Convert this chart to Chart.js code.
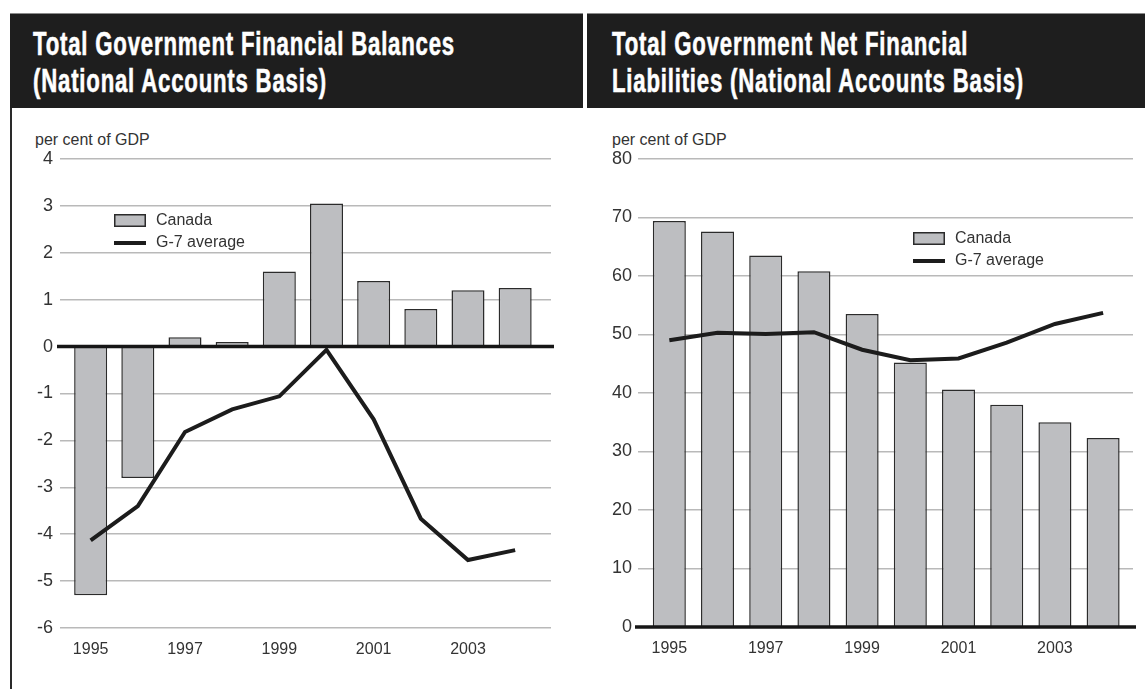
<!DOCTYPE html>
<html>
<head>
<meta charset="utf-8">
<script src="https://cdn.jsdelivr.net/npm/chart.js@4.4.1/dist/chart.umd.min.js"></script>
<style>
  html, body { margin: 0; padding: 0; background: #fff; }
  body { position: relative; width: 1145px; height: 689px; overflow: hidden;
         font-family: "Liberation Sans", Arial, sans-serif; }
  .band { position: absolute; top: 13px; height: 95px; background: #1e1e1e;
          border-top: 1px solid #8a8a8a; box-sizing: border-box; }
  .band h1 { position: absolute; left: 0; top: 11px; margin: 0; white-space: nowrap;
             color: #fff; font-weight: bold; font-size: 33px; line-height: 37px;
             letter-spacing: 1.2px;
             font-family: "Liberation Sans", Arial, sans-serif;
             -webkit-text-stroke: 0.6px #fff;
             transform-origin: 0 0; }
  .band h1 span { display: inline-block; }
  .unit { position: absolute; top: 132px; font-size: 16px; line-height: 16px; color: #333; white-space: nowrap; }
  .rule { position: absolute; left: 10px; top: 108px; width: 2px; height: 581px; background: #2a2a2a; }
  canvas { position: absolute; top: 110px; }
</style>
</head>
<body>
  <div class="band" style="left:10px; width:573px;">
    <h1 id="t1" style="left:23px;"><span id="t1a">Total Government Financial Balances</span><br><span>(National Accounts Basis)</span></h1>
  </div>
  <div class="band" style="left:587px; width:558px;">
    <h1 id="t2" style="left:25px;"><span>Total Government Net Financial</span><br><span>Liabilities (National Accounts Basis)</span></h1>
  </div>
  <div class="rule"></div>
  <div class="unit" style="left:35px;">per cent of GDP</div>
  <div class="unit" style="left:612px;">per cent of GDP</div>
  <canvas id="balances" width="568" height="579" style="left:12px;"></canvas>
  <canvas id="liabilities" width="558" height="579" style="left:587px;"></canvas>

<script>
// ---- data ----
const years = [1995, 1996, 1997, 1998, 1999, 2000, 2001, 2002, 2003, 2004];
const yearTickLabels = [1995, 1997, 1999, 2001, 2003];

// financial balances, per cent of GDP
const balancesCanada = [-5.3, -2.8, 0.2, 0.1, 1.6, 3.05, 1.4, 0.8, 1.2, 1.25];
const balancesG7     = [-4.13, -3.4, -1.82, -1.34, -1.06, -0.07, -1.55, -3.67, -4.55, -4.34];
const balancesTicks  = [-6, -5, -4, -3, -2, -1, 0, 1, 2, 3, 4];

// net financial liabilities, per cent of GDP
const liabilitiesCanada = [69.4, 67.6, 63.5, 60.8, 53.5, 45.2, 40.6, 38.0, 35.0, 32.3];
const liabilitiesG7     = [49.0, 50.3, 50.1, 50.4, 47.4, 45.6, 45.9, 48.6, 51.8, 53.7];
const liabilitiesTicks  = [0, 10, 20, 30, 40, 50, 60, 70, 80];

const seriesNames = ['Canada', 'G-7 average'];

// ---- title width: bold face condensed to fit the header ----
(function fitTitles() {
  const w = document.getElementById('t1a').getBoundingClientRect().width;
  const s = 422 / w;
  ['t1', 't2'].forEach(id => {
    document.getElementById(id).style.transform = 'scaleX(' + s.toFixed(4) + ')';
  });
})();

// ---- plugins ----
const TEXT = '#333';
const BAR_FILL = '#bdbec1';
const BAR_EDGE = '#2b2b2b';
const LINE_COLOR = '#1c1c1c';

// heavy zero line, drawn over the bars but under the G-7 line
const zeroLine = {
  id: 'zeroLine',
  afterDatasetDraw(chart, args) {
    if (args.index !== 0) return;
    const { ctx, chartArea, scales } = chart;
    const y = scales.y.getPixelForValue(0);
    ctx.save();
    ctx.strokeStyle = '#161616';
    ctx.lineWidth = 3.5;
    ctx.beginPath();
    ctx.moveTo(chartArea.left - 3, y);
    ctx.lineTo(chartArea.right + 3, y);
    ctx.stroke();
    ctx.restore();
  }
};

// key drawn inside the plot, built from the datasets' own styles
const seriesKey = {
  id: 'seriesKey',
  afterDraw(chart, args, opts) {
    const { ctx } = chart;
    const ds = chart.data.datasets;
    const x = opts.x, y = opts.y;
    ctx.save();
    ctx.font = '16px "Liberation Sans", Arial, sans-serif';
    ctx.textBaseline = 'middle';
    // bar swatch
    ctx.fillStyle = ds[0].backgroundColor;
    ctx.fillRect(x, y, 32, 13);
    ctx.strokeStyle = ds[0].borderColor;
    ctx.lineWidth = 1.5;
    ctx.strokeRect(x + 0.75, y + 0.75, 30.5, 11.5);
    // line swatch
    ctx.strokeStyle = ds[1].borderColor;
    ctx.lineWidth = 4;
    ctx.beginPath();
    ctx.moveTo(x, y + 29);
    ctx.lineTo(x + 32, y + 29);
    ctx.stroke();
    ctx.fillStyle = TEXT;
    ctx.fillText(ds[0].label, x + 42, y + 7);
    ctx.fillText(ds[1].label, x + 42, y + 29);
    ctx.restore();
  }
};

function buildChart(id, cfg) {
  const pts = vals => years.map((yr, i) => ({ x: yr, y: vals[i] }));
  return new Chart(document.getElementById(id), {
    type: 'bar',
    data: {
      datasets: [
        {
          type: 'bar', label: seriesNames[0], data: pts(cfg.bars), order: 1,
          backgroundColor: BAR_FILL, borderColor: BAR_EDGE, borderWidth: 1.5,
          categoryPercentage: 1, barPercentage: cfg.barPct
        },
        {
          type: 'line', label: seriesNames[1], data: pts(cfg.line), order: 0,
          borderColor: LINE_COLOR, borderWidth: 4, pointRadius: 0, tension: 0,
          fill: false, borderJoinStyle: 'miter'
        }
      ]
    },
    options: {
      responsive: false,
      animation: false,
      devicePixelRatio: 1,
      layout: { padding: { left: 0, right: cfg.padRight, top: 49, bottom: 0 } },
      plugins: {
        legend: { display: false },
        tooltip: { enabled: false },
        seriesKey: cfg.key
      },
      scales: {
        x: {
          type: 'linear', offset: false,
          min: cfg.xMin, max: cfg.xMax,
          grid: { display: false, drawTicks: false },
          border: { display: false },
          afterBuildTicks: s => { s.ticks = yearTickLabels.map(v => ({ value: v })); },
          afterFit: s => { s.height = cfg.xHeight; },
          ticks: {
            autoSkip: false, maxRotation: 0, padding: 12,
            color: TEXT, font: { size: 16, family: '"Liberation Sans", Arial, sans-serif' },
            callback: v => String(v)
          }
        },
        y: {
          min: cfg.ticks[0], max: cfg.ticks[cfg.ticks.length - 1],
          afterBuildTicks: s => { s.ticks = cfg.ticks.map(v => ({ value: v })); },
          afterFit: s => { s.width = cfg.yWidth; },
          grid: { color: '#b9b9b9', lineWidth: 1.5, drawTicks: false },
          border: { display: false },
          ticks: {
            padding: cfg.yPad, color: TEXT,
            font: { size: 18, family: '"Liberation Sans", Arial, sans-serif' },
            callback: v => String(v)
          }
        }
      }
    },
    plugins: [zeroLine, seriesKey]
  });
}

buildChart('balances', {
  bars: balancesCanada, line: balancesG7, ticks: balancesTicks,
  xMin: 1994.35, xMax: 2004.76, barPct: 0.70,
  padRight: 29, yWidth: 48, yPad: 7, xHeight: 61,
  key: { x: 114 - 12, y: 214 - 110 }
});

buildChart('liabilities', {
  bars: liabilitiesCanada, line: liabilitiesG7, ticks: liabilitiesTicks,
  xMin: 1994.35, xMax: 2004.62, barPct: 0.685,
  padRight: 12, yWidth: 51, yPad: 6, xHeight: 62,
  key: { x: 913 - 587, y: 232 - 110 }
});
</script>
</body>
</html>
